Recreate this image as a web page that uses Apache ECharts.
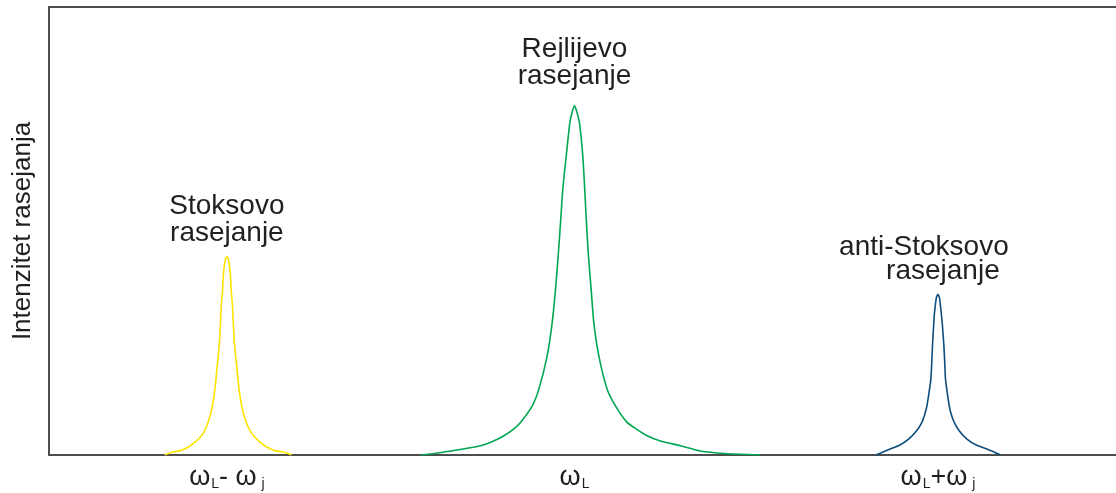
<!DOCTYPE html>
<html>
<head>
<meta charset="utf-8">
<title>Intenzitet rasejanja</title>
<script src="https://cdn.jsdelivr.net/npm/echarts@6/dist/echarts.min.js"></script>
<style>
  html, body { margin: 0; padding: 0; background: #ffffff; }
  #chart { width: 1116px; height: 493px; }
</style>
</head>
<body>
<div id="chart"></div>
<script>
// Spectral line profiles: [relative frequency, intensity]
var stokesLine = [
  [10.86, 0], [11.61, 0.67], [12.36, 1.0], [13.21, 2.0], [14.00, 3.56], [14.52, 5.12],
  [14.92, 7.35], [15.31, 10.91], [15.55, 14.7], [15.71, 18.49], [15.87, 22.27],
  [16.00, 25.84], [16.14, 33.18], [16.25, 36.3], [16.36, 40.76], [16.53, 43.65],
  [16.67, 44.32],
  [16.81, 43.65], [16.98, 40.76], [17.09, 36.3], [17.20, 33.18], [17.35, 25.84],
  [17.49, 22.27], [17.65, 18.49], [17.81, 14.7], [18.06, 10.91], [18.47, 7.35],
  [18.92, 5.12], [19.46, 3.56], [20.25, 2.0], [21.11, 1.0], [21.98, 0.67], [22.73, 0]
];
var rayleighLine = [
  [34.83, 0], [36.14, 0.33], [37.64, 0.89], [40.45, 2.07], [41.67, 3.12], [42.63, 4.30],
  [43.54, 5.79], [44.19, 7.28], [45.29, 10.98], [45.91, 14.70], [46.69, 22.12],
  [47.16, 29.55], [47.47, 36.97], [47.72, 44.39], [47.94, 51.83], [48.15, 59.24],
  [48.47, 66.66], [48.81, 74.1], [49.06, 76.84], [49.25, 77.95],
  [49.44, 76.84], [49.72, 74.1], [50.03, 66.66], [50.21, 59.24], [50.37, 51.83],
  [50.56, 44.39], [50.81, 36.97], [51.06, 29.55], [51.53, 22.12], [52.31, 14.70],
  [53.09, 10.98], [54.18, 7.28], [55.06, 5.79], [56.06, 4.30], [57.30, 3.12],
  [59.18, 2.07], [61.05, 0.89], [63.29, 0.33], [66.67, 0]
];
var antiStokesLine = [
  [77.50, 0], [78.16, 0.67], [78.84, 1.34], [79.75, 2.23], [80.56, 3.56], [81.30, 5.35],
  [81.81, 7.28], [82.06, 8.91], [82.28, 10.98], [82.47, 13.81], [82.65, 16.93],
  [82.73, 20.49], [82.80, 24.34], [82.91, 28.95], [82.99, 31.78], [83.17, 35.19],
  [83.31, 35.86],
  [83.45, 35.19], [83.62, 31.78], [83.73, 28.95], [83.87, 24.34], [83.95, 20.49],
  [84.02, 16.93], [84.19, 13.81], [84.37, 10.98], [84.58, 8.91], [84.84, 7.28],
  [85.32, 5.35], [86.03, 3.56], [86.91, 2.23], [87.90, 1.34], [88.55, 0.67], [89.21, 0]
];

// Line positions on the frequency axis and their tick labels
var tickValues = [16.67, 49.25, 83.31];
var tickLabels = [
  '{w|\u03c9}{s|L}{w|- \u03c9}{s| j}',
  '{w|\u03c9}{s|L}',
  '{w|\u03c9}{s|L}{w|+\u03c9}{s| j}'
];

var yAxisTitle = 'Intenzitet rasejanja';
var stokesText = 'Stoksovo\nrasejanje';
var rayleighText = 'Rejlijevo\nrasejanje';
var antiStokesText1 = 'anti-Stoksovo';
var antiStokesText2 = 'rasejanje';

var FONT = '"Liberation Sans", Arial, Helvetica, sans-serif';
var TEXT_COLOR = '#231f20';
var AXIS_COLOR = '#4d4d4d';

function peakOf(line) {
  var best = line[0];
  line.forEach(function (p) { if (p[1] > best[1]) best = p; });
  return best;
}

function textLabel(text, distance, offset, lineHeight) {
  return {
    show: true,
    position: 'top',
    distance: distance,
    offset: offset || [0, 0],
    formatter: text,
    fontFamily: FONT,
    fontSize: 28,
    lineHeight: lineHeight || 27,
    color: TEXT_COLOR,
    align: 'center'
  };
}

function peakMarks(line, labels) {
  var peak = peakOf(line);
  return {
    symbol: 'circle',
    symbolSize: 0,
    silent: true,
    data: labels.map(function (lbl) { return { coord: peak, label: lbl }; })
  };
}

function lineSeries(name, data, color, markPoint) {
  return {
    name: name,
    type: 'line',
    data: data,
    smooth: 0.2,
    showSymbol: false,
    symbol: 'none',
    lineStyle: { color: color, width: 1.6 },
    markPoint: markPoint,
    z: 3
  };
}

var chart = echarts.init(document.getElementById('chart'), null, { renderer: 'canvas' });

chart.setOption({
  animation: false,
  backgroundColor: '#ffffff',
  grid: { left: 49, right: 0, top: 7, bottom: 38, containLabel: false, outerBoundsMode: 'none' },
  xAxis: [{
    type: 'value',
    min: 0,
    max: 100,
    axisLine: { show: true, onZero: false, lineStyle: { color: AXIS_COLOR, width: 2 } },
    axisTick: { show: false },
    splitLine: { show: false },
    axisLabel: {
      show: true,
      customValues: tickValues,
      margin: 8,
      color: TEXT_COLOR,
      formatter: function (value) {
        var idx = 0, d = Infinity;
        tickValues.forEach(function (v, i) {
          if (Math.abs(v - value) < d) { d = Math.abs(v - value); idx = i; }
        });
        return tickLabels[idx];
      },
      rich: {
        w: { fontFamily: FONT, fontSize: 27, color: TEXT_COLOR, lineHeight: 30 },
        s: { fontFamily: FONT, fontSize: 14, color: TEXT_COLOR, lineHeight: 14, padding: [13, 0, 0, 1] }
      }
    }
  }, {
    type: 'value',
    position: 'top',
    min: 0,
    max: 100,
    axisLine: { show: true, onZero: false, lineStyle: { color: AXIS_COLOR, width: 2 } },
    axisTick: { show: false },
    axisLabel: { show: false },
    splitLine: { show: false }
  }],
  yAxis: {
    type: 'value',
    min: 0,
    max: 100,
    name: yAxisTitle,
    nameLocation: 'middle',
    nameGap: 13,
    nameTextStyle: { fontFamily: FONT, fontSize: 26, color: TEXT_COLOR },
    axisLine: { show: true, onZero: false, lineStyle: { color: AXIS_COLOR, width: 2 } },
    axisTick: { show: false },
    axisLabel: { show: false },
    splitLine: { show: false }
  },
  series: [
    lineSeries('Stoksovo rasejanje', stokesLine, '#fde300',
      peakMarks(stokesLine, [textLabel(stokesText, 10, [0, 0])])),
    lineSeries('Rejlijevo rasejanje', rayleighLine, '#00a651',
      peakMarks(rayleighLine, [textLabel(rayleighText, 16, [0, 0])])),
    lineSeries('anti-Stoksovo rasejanje', antiStokesLine, '#0b4d7e',
      peakMarks(antiStokesLine, [
        textLabel(antiStokesText1, 35, [-14, 0], 25),
        textLabel(antiStokesText2, 11, [5, 0], 25)
      ]))
  ]
});
</script>
</body>
</html>
